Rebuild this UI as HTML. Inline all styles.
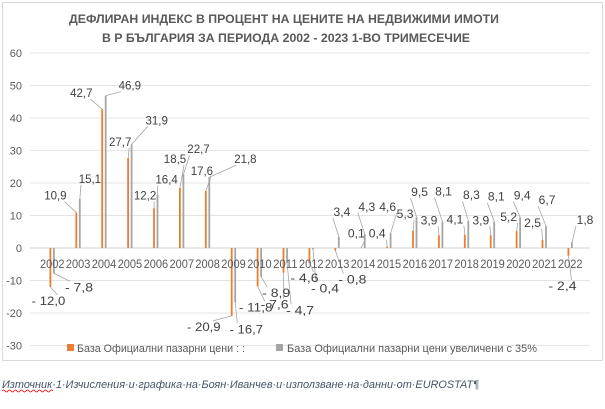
<!DOCTYPE html>
<html><head><meta charset="utf-8"><style>
body{margin:0;background:#fff;width:605px;height:404px;overflow:hidden;font-family:"Liberation Sans","DejaVu Sans",sans-serif}
svg text{font-family:"Liberation Sans","DejaVu Sans",sans-serif}
</style></head><body>
<svg id="chart" width="605" height="404" xmlns="http://www.w3.org/2000/svg">
<rect x="2.5" y="2.5" width="600" height="358" fill="#fff" stroke="#d9d9d9"/>
<text x="284" y="23" text-anchor="middle" font-size="12" font-weight="bold" fill="#595959" textLength="430" lengthAdjust="spacingAndGlyphs">ДЕФЛИРАН ИНДЕКС В ПРОЦЕНТ НА ЦЕНИТЕ НА НЕДВИЖИМИ ИМОТИ</text>
<text x="286" y="42" text-anchor="middle" font-size="12" font-weight="bold" fill="#595959" textLength="368" lengthAdjust="spacingAndGlyphs">В Р БЪЛГАРИЯ ЗА ПЕРИОДА 2002 - 2023 1-ВО ТРИМЕСЕЧИЕ</text>
<g id="grid"></g><g id="bars"></g><g id="labels"></g>
<g>
<rect x="67" y="344" width="7" height="7" fill="#ed7d31"/>
<text x="77" y="352" font-size="11" fill="#595959" textLength="168" lengthAdjust="spacingAndGlyphs">База Официални пазарни цени : :</text>
<rect x="276" y="344" width="7" height="7" fill="#a5a5a5"/>
<text x="287" y="352" font-size="11" fill="#595959" textLength="250" lengthAdjust="spacingAndGlyphs">База Официални пазарни цени увеличени с 35%</text>
</g>
<text x="2" y="388" font-size="11" font-style="italic" fill="#44546a" textLength="477" lengthAdjust="spacingAndGlyphs">Източник·1·Изчисления·и·графика·на·Боян·Иванчев·и·използване·на·данни·от·EUROSTAT¶</text>
<path d="M2 391 q1.5 -2 3 0 t3 0 t3 0 t3 0 t3 0 t3 0 t3 0 t3 0 t3 0 t3 0 t3 0 t3 0 t3 0 t3 0 t3 0 t3 0 t3 0" fill="none" stroke="#e00" stroke-width="0.8"/>
</svg>
<script>
const years=["2002","2003","2004","2005","2006","2007","2008","2009","2010","2011","2012","2013","2014","2015","2016","2017","2018","2019","2020","2021","2022"];
const official=[-12.0,10.9,42.7,27.7,12.2,18.5,17.6,-20.9,-11.8,-7.6,-4.6,-0.8,0.1,0.4,5.3,3.9,4.1,3.9,5.2,2.5,-2.4];
const plus35=[-7.8,15.1,46.9,31.9,16.4,22.7,21.8,-16.7,-8.9,-4.7,-0.4,3.4,4.3,4.6,9.5,8.1,8.3,8.1,9.4,6.7,1.8];
const yTicks=[60,50,40,30,20,10,0,-10,-20,-30];
// label offsets (layout, not data)
const offO=[[-2,14],[-21,-17],[-21,-16],[-8,-16],[-9,-13],[-5,-29],[-4,-20],[-28,11],[-2,21],[-9,32],[-5,15],[17,29],[-5,-14],[-10,-13],[-8,-17],[-10,-15],[-10,-15],[-10,-15],[-8,-14],[-10,-17],[-6,30]];
const offG=[[25,14],[10,-20],[24,-10],[25,-24],[9,-15],[15,-25],[36,-18],[11,27],[15,16],[13,47],[12,39],[3,-25],[2,-27],[-3,-26],[3,-25],[1,-30],[3,-26],[2,-25],[2,-22],[1,-26],[13,-22]];
const NS="http://www.w3.org/2000/svg";
const y=v=>248-3.25*v;
const cx=i=>52+25.9*i;
function mk(tag,attrs,parent){const e=document.createElementNS(NS,tag);for(const k in attrs)e.setAttribute(k,attrs[k]);parent.appendChild(e);return e;}
const grid=document.getElementById('grid'),bars=document.getElementById('bars'),labels=document.getElementById('labels');
yTicks.forEach(t=>{
  const l=mk('line',{x1:30,x2:590,y1:y(t),y2:y(t),stroke:t===0?'#d0d0d0':'#e4e4e4','stroke-width':1},grid);
  
  
  const tx=mk('text',{x:22,y:y(t)+4,'text-anchor':'end','font-size':11,fill:'#595959'},grid);
  tx.textContent=String(t);
  
  
});
const fmt=v=>(v<0?'- ':'')+Math.abs(v).toFixed(1).replace('.',',');
years.forEach((yr,i)=>{
  const c=cx(i);
  const xl=mk('text',{x:c-12,y:268,'font-size':11.5,fill:'#595959',textLength:24.5,lengthAdjust:'spacingAndGlyphs'},labels);
  xl.textContent=yr;
  
  
  [[official,'#ed7d31',c-1.5,offO,'official'],[plus35,'#a5a5a5',c+2,offG,'plus35']].forEach(([arr,col,bx,off,nm])=>{
    const v=arr[i];
    const r=mk('rect',{x:bx-1,y:Math.min(y(v),y(0)),width:1.8,height:Math.abs(y(v)-y(0)),fill:col},bars);
    
    
    const lx=bx+off[i][0],ly=y(v)+off[i][1];
    const ln=mk('polyline',{points:`${bx},${y(v)} ${lx+(off[i][0]>0?-9:9)},${ly+(off[i][1]>0?-6:6)}`,fill:'none',stroke:'#a6a6a6','stroke-width':0.8},bars);
    
    
    const s=fmt(v);
    const t=mk('text',{x:lx,y:ly+4,'text-anchor':'middle','font-size':12,fill:'#404040',textLength:(s.length*5.6).toFixed(1),lengthAdjust:'spacingAndGlyphs'},labels);
    t.textContent=s;
    
    
  });
});
</script>
</body></html>
